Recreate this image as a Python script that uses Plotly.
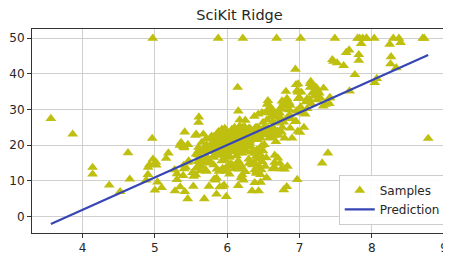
import plotly.graph_objects as go

# Samples: average rooms (RM) vs median value (MEDV)
rm = [
    6.575, 6.421, 7.185, 6.998, 7.147, 6.43, 6.012, 6.172, 5.631, 6.004,
    6.377, 6.009, 5.889, 5.949, 6.096, 5.834, 5.935, 5.99, 5.456, 5.727,
    5.57, 5.965, 6.142, 5.813, 5.924, 5.599, 5.813, 6.047, 6.495, 6.674,
    5.713, 6.072, 5.95, 5.701, 6.096, 5.933, 5.841, 5.85, 5.966, 6.595,
    7.024, 6.77, 6.169, 6.211, 6.069, 5.682, 5.786, 6.03, 5.399, 5.602,
    5.963, 6.115, 6.511, 5.998, 5.888, 7.249, 6.383, 6.816, 6.145, 5.927,
    5.741, 5.966, 6.456, 6.762, 7.104, 6.29, 5.787, 5.878, 5.594, 5.885,
    6.417, 5.961, 6.065, 6.245, 6.273, 6.286, 6.279, 6.14, 6.232, 5.874,
    6.727, 6.619, 6.302, 6.167, 6.389, 6.63, 6.015, 6.121, 7.007, 7.079,
    6.417, 6.405, 6.442, 6.211, 6.249, 6.625, 6.163, 8.069, 7.82, 7.416,
    6.727, 6.781, 6.405, 6.137, 6.167, 5.851, 5.836, 6.127, 6.474, 6.229,
    6.195, 6.715, 5.913, 6.092, 6.254, 5.928, 6.176, 6.021, 5.872, 5.731,
    5.87, 6.004, 5.961, 5.856, 5.879, 5.986, 5.613, 5.693, 6.431, 5.637,
    6.458, 6.326, 6.372, 5.822, 5.757, 6.335, 5.942, 6.454, 5.857, 6.151,
    6.174, 5.019, 5.403, 5.468, 4.903, 6.13, 5.628, 4.926, 5.186, 5.597,
    6.122, 5.404, 5.012, 5.709, 6.129, 6.152, 5.272, 6.943, 6.066, 6.51,
    6.25, 7.489, 7.802, 8.375, 5.854, 6.101, 7.929, 5.877, 6.319, 6.402,
    5.875, 5.88, 5.572, 6.416, 5.859, 6.546, 6.02, 6.315, 6.86, 6.98,
    7.765, 6.144, 7.155, 6.563, 5.604, 6.153, 7.831, 6.782, 6.556, 7.185,
    6.951, 6.739, 7.178, 6.8, 6.604, 7.875, 7.287, 7.107, 7.274, 6.975,
    7.135, 6.162, 7.61, 7.853, 8.034, 5.891, 6.326, 5.783, 6.064, 5.344,
    5.96, 5.404, 5.807, 6.375, 5.412, 6.182, 5.888, 6.642, 5.951, 6.373,
    6.951, 6.164, 6.879, 6.618, 8.266, 8.725, 8.04, 7.163, 7.686, 6.552,
    5.981, 7.412, 8.337, 8.247, 6.726, 6.086, 6.631, 7.358, 6.481, 6.606,
    6.897, 6.095, 6.358, 6.393, 5.593, 5.605, 6.108, 6.226, 6.433, 6.718,
    6.487, 6.438, 6.957, 8.259, 6.108, 5.876, 7.454, 8.704, 7.333, 6.842,
    7.203, 7.52, 8.398, 7.327, 7.206, 5.56, 7.014, 8.297, 7.47, 5.92,
    5.856, 6.24, 6.538, 7.691, 6.758, 6.854, 7.267, 6.826, 6.482, 6.812,
    7.82, 6.968, 7.645, 7.923, 7.088, 6.453, 6.23, 6.209, 6.315, 6.565,
    6.861, 7.148, 6.63, 6.127, 6.009, 6.678, 6.549, 5.79, 6.345, 7.041,
    6.871, 6.59, 6.495, 6.982, 7.236, 6.616, 7.42, 6.849, 6.635, 5.972,
    4.973, 6.122, 6.023, 6.266, 6.567, 5.705, 5.914, 5.782, 6.382, 6.113,
    6.426, 6.376, 6.041, 5.708, 6.415, 6.431, 6.312, 6.083, 5.868, 6.333,
    6.144, 5.706, 6.031, 6.316, 6.31, 6.037, 5.869, 5.895, 6.059, 5.985,
    5.968, 7.241, 6.54, 6.696, 6.874, 6.014, 5.898, 6.516, 6.635, 6.939,
    6.49, 6.579, 5.884, 6.728, 5.663, 5.936, 6.212, 6.395, 6.127, 6.112,
    6.398, 6.251, 5.362, 5.803, 8.78, 3.561, 4.963, 3.863, 4.97, 6.683,
    7.016, 6.216, 5.875, 4.906, 4.138, 7.313, 6.649, 6.794, 6.38, 6.223,
    6.968, 6.545, 5.536, 5.52, 4.368, 5.277, 4.652, 5.0, 4.88, 5.39,
    5.713, 6.051, 5.036, 6.193, 5.887, 6.471, 6.405, 5.747, 5.453, 5.852,
    5.987, 6.343, 6.404, 5.349, 5.531, 5.683, 4.138, 5.608, 5.617, 6.852,
    5.757, 6.657, 4.628, 5.155, 4.519, 6.434, 6.782, 5.304, 5.957, 6.824,
    6.411, 6.006, 5.648, 6.103, 5.565, 5.896, 5.837, 6.202, 6.193, 6.38,
    6.348, 6.833, 6.425, 6.436, 6.208, 6.629, 6.461, 6.152, 5.935, 5.627,
    5.818, 6.406, 6.219, 6.485, 5.854, 6.459, 6.341, 6.251, 6.185, 6.417,
    6.749, 6.655, 6.297, 7.393, 6.728, 6.525, 5.976, 5.936, 6.301, 6.081,
    6.701, 6.376, 6.317, 6.513, 6.209, 5.759, 5.952, 6.003, 5.926, 5.713,
    6.167, 6.229, 6.437, 6.98, 5.427, 6.162, 6.484, 5.304, 6.185, 6.229,
    6.242, 6.75, 7.061, 5.762, 5.871, 6.312, 6.114, 5.905, 5.454, 5.414,
    5.093, 5.983, 5.983, 5.707, 5.926, 5.67, 5.39, 5.794, 6.019, 5.569,
    6.027, 6.593, 6.12, 6.976, 6.794, 6.03,
]
medv = [
    24.0, 21.6, 34.7, 33.4, 36.2, 28.7, 22.9, 27.1, 16.5, 18.9,
    15.0, 18.9, 21.7, 20.4, 18.2, 19.9, 23.1, 17.5, 20.2, 18.2,
    13.6, 19.6, 15.2, 14.5, 15.6, 13.9, 16.6, 14.8, 18.4, 21.0,
    12.7, 14.5, 13.2, 13.1, 13.5, 18.9, 20.0, 21.0, 24.7, 30.8,
    34.9, 26.6, 25.3, 24.7, 21.2, 19.3, 20.0, 16.6, 14.4, 19.4,
    19.7, 20.5, 25.0, 23.4, 18.9, 35.4, 24.7, 31.6, 23.3, 19.6,
    18.7, 16.0, 22.2, 25.0, 33.0, 23.5, 19.4, 22.0, 17.4, 20.9,
    24.2, 21.7, 22.8, 23.4, 24.1, 21.4, 20.0, 20.8, 21.2, 20.3,
    28.0, 23.9, 24.8, 22.9, 23.9, 26.6, 22.5, 22.2, 23.6, 28.7,
    22.6, 22.0, 22.9, 25.0, 20.6, 28.4, 21.4, 38.7, 43.8, 33.2,
    27.5, 26.5, 18.6, 19.3, 20.1, 19.5, 19.5, 20.4, 19.8, 19.4,
    21.7, 22.8, 18.8, 18.7, 18.5, 18.3, 21.2, 19.2, 20.4, 19.3,
    22.0, 20.3, 20.5, 17.3, 18.8, 21.4, 15.7, 16.2, 18.0, 14.3,
    19.2, 19.6, 23.0, 18.4, 15.6, 18.1, 17.4, 17.1, 13.3, 17.8,
    14.0, 14.4, 13.4, 15.6, 11.8, 13.8, 15.6, 14.6, 17.8, 15.4,
    21.5, 19.6, 15.3, 19.4, 17.0, 15.6, 13.1, 41.3, 24.3, 23.3,
    27.0, 50.0, 50.0, 50.0, 22.7, 25.0, 50.0, 23.8, 23.8, 22.3,
    17.4, 19.1, 23.1, 23.6, 22.6, 29.4, 23.2, 24.6, 29.9, 37.2,
    39.8, 36.2, 37.9, 32.5, 26.4, 29.6, 50.0, 32.0, 29.8, 34.9,
    37.0, 30.5, 36.4, 31.1, 29.1, 50.0, 33.3, 30.3, 34.6, 34.9,
    32.9, 24.1, 42.3, 48.5, 50.0, 22.6, 24.4, 22.5, 24.4, 20.0,
    21.7, 19.3, 22.4, 28.1, 23.7, 25.0, 23.3, 28.7, 21.5, 23.0,
    26.7, 21.7, 27.5, 30.1, 44.8, 50.0, 37.6, 31.6, 46.7, 31.5,
    24.3, 31.7, 41.7, 48.3, 29.0, 24.0, 25.1, 31.5, 23.7, 23.3,
    22.0, 20.1, 22.2, 23.7, 17.6, 18.5, 24.3, 20.5, 24.5, 26.2,
    24.4, 24.8, 29.6, 42.8, 21.9, 20.9, 44.0, 50.0, 36.0, 30.1,
    33.8, 43.1, 48.8, 31.0, 36.5, 22.8, 30.7, 50.0, 43.5, 20.7,
    21.1, 25.2, 24.4, 35.2, 32.4, 32.0, 33.2, 33.1, 29.1, 35.1,
    45.4, 35.4, 46.0, 50.0, 32.2, 22.0, 20.1, 23.2, 22.3, 24.8,
    28.5, 37.3, 27.9, 23.9, 21.7, 28.6, 27.1, 20.3, 22.5, 29.0,
    24.8, 22.0, 26.4, 33.1, 36.1, 28.4, 33.4, 28.2, 22.8, 20.3,
    16.1, 22.1, 19.4, 21.6, 23.8, 16.2, 17.8, 19.8, 23.1, 21.0,
    23.8, 23.1, 20.4, 18.5, 25.0, 24.6, 23.0, 22.2, 19.3, 22.6,
    19.8, 17.1, 19.4, 22.2, 20.7, 21.1, 19.5, 18.5, 20.6, 19.0,
    18.7, 32.7, 16.5, 23.9, 31.2, 17.5, 17.2, 23.1, 24.5, 26.6,
    22.9, 24.1, 18.6, 30.1, 18.2, 20.6, 17.8, 21.7, 22.7, 22.6,
    25.0, 19.9, 20.8, 16.8, 21.9, 27.5, 21.9, 23.1, 50.0, 50.0,
    50.0, 50.0, 50.0, 13.8, 13.8, 15.0, 13.9, 13.3, 13.1, 10.2,
    10.4, 10.9, 11.3, 12.3, 8.8, 7.2, 10.5, 7.4, 10.2, 11.5,
    15.1, 23.2, 9.7, 13.8, 12.7, 13.1, 12.5, 8.5, 5.0, 6.3,
    5.6, 7.2, 12.1, 8.3, 8.5, 5.0, 11.9, 27.9, 17.2, 27.5,
    15.0, 17.2, 17.9, 16.3, 7.0, 7.2, 7.5, 10.4, 8.8, 8.4,
    16.7, 14.2, 20.8, 13.4, 11.7, 8.3, 10.2, 10.9, 11.0, 9.5,
    14.5, 14.1, 16.1, 14.3, 11.7, 13.4, 9.6, 8.7, 8.4, 12.8,
    10.5, 17.1, 18.4, 15.4, 10.8, 11.8, 14.9, 12.6, 14.1, 13.0,
    13.4, 15.2, 16.1, 17.8, 14.9, 14.1, 12.7, 13.5, 14.9, 20.0,
    16.4, 17.7, 19.5, 20.2, 21.4, 19.9, 19.0, 19.1, 19.1, 20.1,
    19.9, 19.6, 23.2, 29.8, 13.8, 13.3, 16.7, 12.0, 14.6, 21.4,
    23.0, 23.7, 25.0, 21.8, 20.6, 21.2, 19.1, 20.6, 15.2, 7.0,
    8.1, 13.6, 20.1, 21.8, 24.5, 23.1, 19.7, 18.3, 21.2, 17.5,
    16.8, 22.4, 20.6, 23.9, 22.0, 11.9,
]

# Ridge prediction line (end points)
pred_x = [3.561, 8.780]
pred_y = [-2.1, 45.3]

x_ticks = [4, 5, 6, 7, 8, 9]
y_ticks = [0, 10, 20, 30, 40, 50]

FONT = "DejaVu Sans"
TXT = "#262626"

fig = go.Figure()
fig.add_trace(go.Scatter(
    x=rm, y=medv, mode="markers", name="Samples",
    marker=dict(symbol="triangle-up", size=9.5, color="#bfbf10",
                line=dict(width=0)),
))
fig.add_trace(go.Scatter(
    x=pred_x, y=pred_y, mode="lines", name="Prediction",
    line=dict(color="#3646b4", width=2.2),
))

axis_common = dict(
    showgrid=True, gridcolor="#cfcfcf", gridwidth=1,
    showline=True, linecolor="#333333", linewidth=1, mirror=True,
    ticks="outside", ticklen=4, tickcolor="#333333",
    zeroline=False, automargin=False,
    tickfont=dict(family=FONT, size=12, color=TXT),
)

# the page body adds an 8px offset, so the figure is sized to the visible area
fig.update_layout(
    width=443, height=246,
    margin=dict(l=24, r=4, t=21, b=21),
    paper_bgcolor="white", plot_bgcolor="white",
    title=dict(text="SciKit Ridge", x=0.5, xref="paper",
               y=1 - 7 / 246, yref="container", yanchor="middle",
               xanchor="center",
               font=dict(family=FONT, size=14.5, color=TXT)),
    xaxis=dict(range=[3.30, 9.04], tickvals=x_ticks, **axis_common),
    yaxis=dict(range=[-4.6, 52.6], tickvals=y_ticks, **axis_common),
    legend=dict(x=0.997, y=0.04, xanchor="right", yanchor="bottom",
                bgcolor="rgba(255,255,255,0.9)", bordercolor="#cccccc",
                borderwidth=1, itemwidth=30, tracegroupgap=0,
                font=dict(family=FONT, size=12, color=TXT)),
    showlegend=True,
)

fig.write_html("out.html")
